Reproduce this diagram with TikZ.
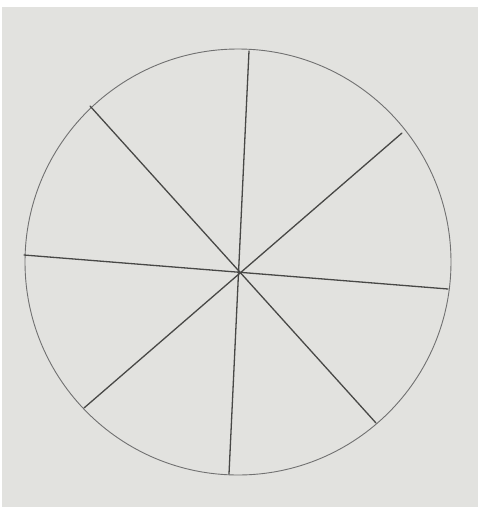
\documentclass[tikz,border=0pt]{standalone}
\usepackage{tikz}
\usetikzlibrary{calc}
\definecolor{paperG}{HTML}{E2E2DF}
\definecolor{pencilA}{HTML}{707070}
\definecolor{pencilB}{HTML}{484846}
\tikzset{
  rim/.style={draw=pencilA, line width=0.9pt},
  spoke/.style={draw=pencilB, line width=1.3pt, line cap=round}
}
\begin{document}
\begin{tikzpicture}[x=1pt,y=-1pt]
\useasboundingbox (0,0) rectangle (478,507);
\fill[white] (0,0) rectangle (478,507);
\fill[paperG] (2,7) rectangle (478,507);
% circle
\coordinate (c) at (238,262);
\draw[rim] (c) circle[radius=213];
% end points of the spokes
\coordinate (n) at (249,51);
\coordinate (s) at (229,474);
\coordinate (nw) at (90,106);
\coordinate (se) at (376,423);
\coordinate (w) at (24,255);
\coordinate (e) at (448,289);
\coordinate (ne) at (402,133);
\coordinate (sw) at (84,408);
\draw[spoke] (n) -- (s);
\draw[spoke] (nw) -- (se);
\draw[spoke] (w) -- (e);
\draw[spoke] (ne) -- (sw);
\end{tikzpicture}
\end{document}
